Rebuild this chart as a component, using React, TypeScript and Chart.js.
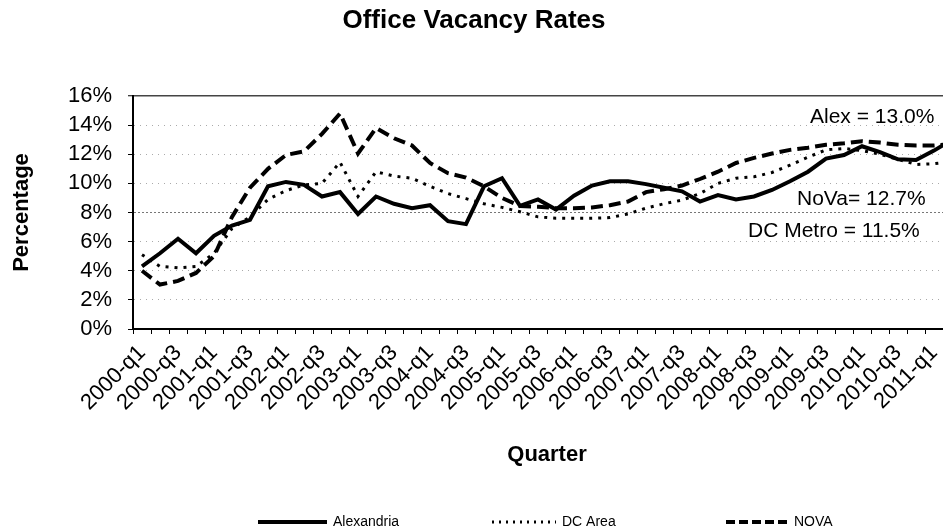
import React, { useEffect, useRef } from 'react';
import { Chart, registerables } from 'chart.js';

Chart.register(...registerables);

const FONT = "'Liberation Sans', Arial, Helvetica, sans-serif";

const chartTitle = 'Office Vacancy Rates';
const xTitle = 'Quarter';
const yTitle = 'Percentage';

const quarters = [
  '2000-q1', '2000-q2', '2000-q3', '2000-q4',
  '2001-q1', '2001-q2', '2001-q3', '2001-q4',
  '2002-q1', '2002-q2', '2002-q3', '2002-q4',
  '2003-q1', '2003-q2', '2003-q3', '2003-q4',
  '2004-q1', '2004-q2', '2004-q3', '2004-q4',
  '2005-q1', '2005-q2', '2005-q3', '2005-q4',
  '2006-q1', '2006-q2', '2006-q3', '2006-q4',
  '2007-q1', '2007-q2', '2007-q3', '2007-q4',
  '2008-q1', '2008-q2', '2008-q3', '2008-q4',
  '2009-q1', '2009-q2', '2009-q3', '2009-q4',
  '2010-q1', '2010-q2', '2010-q3', '2010-q4',
  '2011-q1', '2011-q2',
];

const alexandria = [
  4.3, 5.2, 6.2, 5.2, 6.4, 7.1, 7.5, 9.8, 10.1, 9.9,
  9.1, 9.4, 7.9, 9.1, 8.6, 8.3, 8.5, 7.4, 7.2, 9.8,
  10.35, 8.45, 8.9, 8.2, 9.15, 9.85, 10.15, 10.15, 9.95, 9.7,
  9.45, 8.75, 9.2, 8.9, 9.1, 9.55, 10.15, 10.8, 11.7, 11.95,
  12.55, 12.15, 11.65, 11.6, 12.25, 13.0,
];

const dcArea = [
  5.1, 4.3, 4.2, 4.3, 5.2, 6.9, 7.7, 8.9, 9.5, 9.9,
  10.0, 11.45, 9.1, 10.8, 10.5, 10.35, 9.8, 9.3, 8.95, 8.6,
  8.35, 8.05, 7.7, 7.6, 7.6, 7.6, 7.65, 7.9, 8.3, 8.6,
  8.85, 9.3, 10.0, 10.35, 10.45, 10.75, 11.25, 11.8, 12.3, 12.4,
  12.25, 12.0, 11.65, 11.3, 11.35, 11.5,
];

const nova = [
  4.0, 3.05, 3.3, 3.85, 5.0, 7.7, 9.7, 11.0, 11.95, 12.2,
  13.4, 14.8, 12.05, 13.8, 13.1, 12.6, 11.4, 10.7, 10.4, 9.8,
  9.0, 8.45, 8.4, 8.3, 8.3, 8.35, 8.5, 8.75, 9.4, 9.6,
  9.85, 10.3, 10.8, 11.4, 11.75, 12.05, 12.3, 12.45, 12.65, 12.75,
  12.9, 12.8, 12.65, 12.6, 12.6, 12.7,
];

const seriesNames = ['Alexandria', 'DC Area', 'NOVA'];
const endNotes = ['Alex = 13.0%', 'NoVa= 12.7%', 'DC Metro = 11.5%'];

const yMin = 0;
const yMax = 16;
const yStep = 2;

export default function App() {
  const ref = useRef<HTMLCanvasElement | null>(null);

  useEffect(() => {
    const canvas = ref.current;
    if (!canvas) return;

    const overlay = {
      id: 'overlay',
      afterDraw(chart: any) {
        const { ctx, chartArea } = chart;
        ctx.save();
        ctx.fillStyle = '#000';
        ctx.strokeStyle = '#000';

        // chart title
        ctx.font = `bold 26px ${FONT}`;
        ctx.textAlign = 'center';
        ctx.textBaseline = 'middle';
        ctx.fillText(chartTitle, 474, 21);

        // end-value notes
        ctx.font = `21px ${FONT}`;
        ctx.textAlign = 'left';
        ctx.fillText(endNotes[0], chartArea.left + 677, chartArea.top + 21);
        ctx.fillText(endNotes[1], chartArea.left + 664, chartArea.top + 103);
        ctx.fillText(endNotes[2], chartArea.left + 615, chartArea.top + 135);

        // legend
        const cx = (chartArea.left + chartArea.right) / 2;
        const ly = 522;
        const items = [
          { x: cx - 289, w: 69, lw: 4, dash: [] as number[] },
          { x: cx - 55, w: 64, lw: 3, dash: [2, 5] },
          { x: cx + 179, w: 62, lw: 4, dash: [9, 4] },
        ];
        ctx.font = `14px ${FONT}`;
        items.forEach((it, i) => {
          ctx.beginPath();
          ctx.lineWidth = it.lw;
          ctx.setLineDash(it.dash);
          ctx.moveTo(it.x, ly);
          ctx.lineTo(it.x + it.w, ly);
          ctx.stroke();
          ctx.setLineDash([]);
          ctx.fillText(seriesNames[i], it.x + it.w + 6, ly);
        });
        ctx.restore();
      },
    };

    const chart = new Chart(canvas, {
      type: 'line',
      data: {
        labels: quarters,
        datasets: [
          {
            label: seriesNames[0],
            data: alexandria,
            borderColor: '#000',
            backgroundColor: '#000',
            borderWidth: 4,
            pointRadius: 0,
            tension: 0,
            fill: false,
          },
          {
            label: seriesNames[1],
            data: dcArea,
            borderColor: '#000',
            backgroundColor: '#000',
            borderWidth: 3,
            borderDash: [3, 6],
            pointRadius: 0,
            tension: 0,
            fill: false,
          },
          {
            label: seriesNames[2],
            data: nova,
            borderColor: '#000',
            backgroundColor: '#000',
            borderWidth: 4,
            borderDash: [12, 6],
            pointRadius: 0,
            tension: 0,
            fill: false,
          },
        ],
      },
      options: {
        animation: false,
        responsive: false,
        devicePixelRatio: 1,
        events: [],
        layout: {
          autoPadding: false,
          padding: { top: 96, left: 0, right: 1, bottom: 0 },
        },
        plugins: {
          legend: { display: false },
          title: { display: false },
          tooltip: { enabled: false },
        },
        scales: {
          x: {
            type: 'category',
            offset: true,
            grid: {
              offset: true,
              drawOnChartArea: false,
              drawTicks: true,
              tickLength: 5,
              tickColor: '#000',
              tickWidth: 1,
              tickBorderDash: [],
              color: '#000',
            },
            border: { display: true, color: '#000', width: 2 },
            ticks: {
              autoSkip: false,
              maxRotation: 45,
              minRotation: 45,
              padding: 6,
              color: '#000',
              font: { family: FONT, size: 22 },
              callback: (_v: any, i: number) => (i % 2 === 0 ? quarters[i] : ''),
            },
            title: {
              display: true,
              text: xTitle,
              color: '#000',
              font: { family: FONT, size: 22, weight: 'bold' },
              padding: { top: 0, bottom: 64 },
            },
            afterFit: (scale: any) => {
              scale.height = 203;
              scale.paddingLeft = 0;
              scale.paddingRight = 0;
            },
          },
          y: {
            min: yMin,
            max: yMax,
            grid: {
              drawOnChartArea: true,
              drawTicks: true,
              tickLength: 5,
              tickColor: '#000',
              tickWidth: 1,
              tickBorderDash: [],
              color: (c: any) =>
                c.tick && c.tick.value === yMax ? '#444' : c.tick && c.tick.value === 8 ? '#777' : '#aaa',
              lineWidth: (c: any) => (c.tick && c.tick.value === yMax ? 1.5 : 1),
            },
            border: {
              display: true,
              color: '#000',
              width: 2,
              dash: (c: any) =>
                c.tick && c.tick.value === yMax ? [] : c.tick && c.tick.value === 8 ? [2, 2] : [1, 5],
            },
            ticks: {
              stepSize: yStep,
              autoSkip: false,
              padding: 16,
              color: '#000',
              font: { family: FONT, size: 22 },
              callback: (v: any) => `${v}%`,
            },
            title: {
              display: true,
              text: yTitle,
              color: '#000',
              font: { family: FONT, size: 22, weight: 'bold' },
              padding: { top: 9, bottom: 0 },
            },
            afterFit: (scale: any) => {
              scale.width = 133;
            },
          },
        },
      },
      plugins: [overlay],
    } as any);

    return () => {
      chart.destroy();
    };
  }, []);

  return (
    <div
      style={{
        position: 'fixed',
        left: 0,
        top: 0,
        width: 943,
        height: 532,
        overflow: 'hidden',
        background: '#fff',
      }}
    >
      <canvas ref={ref} width={962} height={532} style={{ display: 'block', width: 962, height: 532 }} />
    </div>
  );
}
